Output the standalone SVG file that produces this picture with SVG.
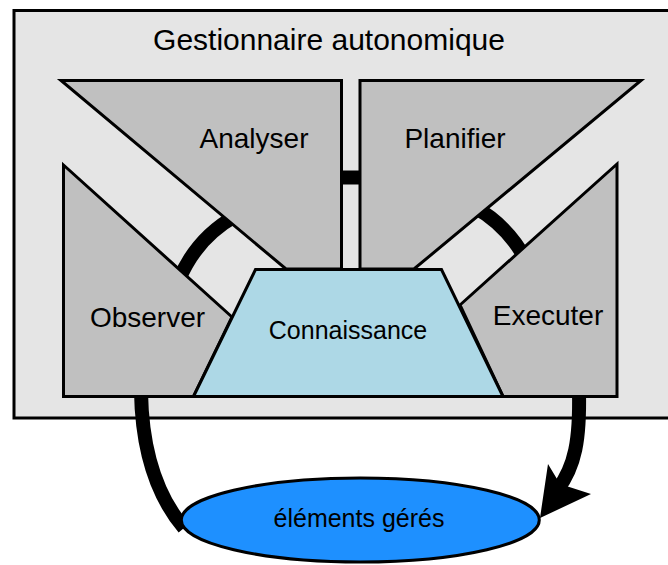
<svg xmlns="http://www.w3.org/2000/svg" width="668" height="565" viewBox="0 0 668 565">
  <style>
    .frame { fill: #e5e5e5; stroke: #000; stroke-width: 3; }
    .phase { fill: #c0c0c0; stroke: #000; stroke-width: 3; stroke-linejoin: miter; }
    .know { fill: #add8e6; stroke: #000; stroke-width: 3; }
    .managed { fill: #1e90ff; stroke: #000; stroke-width: 3; }
    .link { fill: none; stroke: #000; stroke-width: 14; stroke-linecap: butt; }
    .head { fill: #000; stroke: none; }
    text { font-family: "Liberation Sans", Arial, sans-serif; fill: #000; text-anchor: middle; }
    .t-title { font-size: 30px; }
    .t-phase { font-size: 28px; }
    .t-know { font-size: 25px; }
  </style>

  <g id="gestionnaire">
    <rect class="frame" x="14" y="10.5" width="700" height="407.5"/>
    <text class="t-title" x="329" y="49.5">Gestionnaire autonomique</text>
  </g>

  <g id="connectors">
    <path class="link" d="M178.8,280.3 A131,131 0 0 1 236.3,215.5"/>
    <path class="link" d="M472.7,206 A131,131 0 0 1 526.5,261.1"/>
    <path class="link" d="M335,177.5 L366,177.5"/>
    <path class="link" d="M141,392 C142,450 156,495 184,528"/>
    <path class="link" d="M579,392 C580,440 575,466 558,489"/>
    <polygon class="head" points="540,518 548,464 560,484 591,494"/>
  </g>

  <g id="analyser">
    <polygon class="phase" points="61,80.5 341.5,80.5 341.5,269 286,269"/>
    <text class="t-phase" x="254" y="148">Analyser</text>
  </g>

  <g id="planifier">
    <polygon class="phase" points="360,80.5 641,80.5 414,269 360,269"/>
    <text class="t-phase" x="455" y="148">Planifier</text>
  </g>

  <g id="observer">
    <polygon class="phase" points="63.5,165 232,317 193.5,396.5 63.5,396.5"/>
    <text class="t-phase" x="147.5" y="326.5">Observer</text>
  </g>

  <g id="executer">
    <polygon class="phase" points="617,164 617,396.5 503,396.5 460,305"/>
    <text class="t-phase" x="548" y="325">Executer</text>
  </g>

  <g id="connaissance">
    <polygon class="know" points="255.5,269.5 441.5,269.5 503,396.5 193.5,396.5"/>
    <text class="t-know" x="348" y="339">Connaissance</text>
  </g>

  <g id="elements-geres">
    <ellipse class="managed" cx="360.3" cy="520" rx="179" ry="42"/>
    <text class="t-know" x="359" y="527">éléments gérés</text>
  </g>
</svg>
